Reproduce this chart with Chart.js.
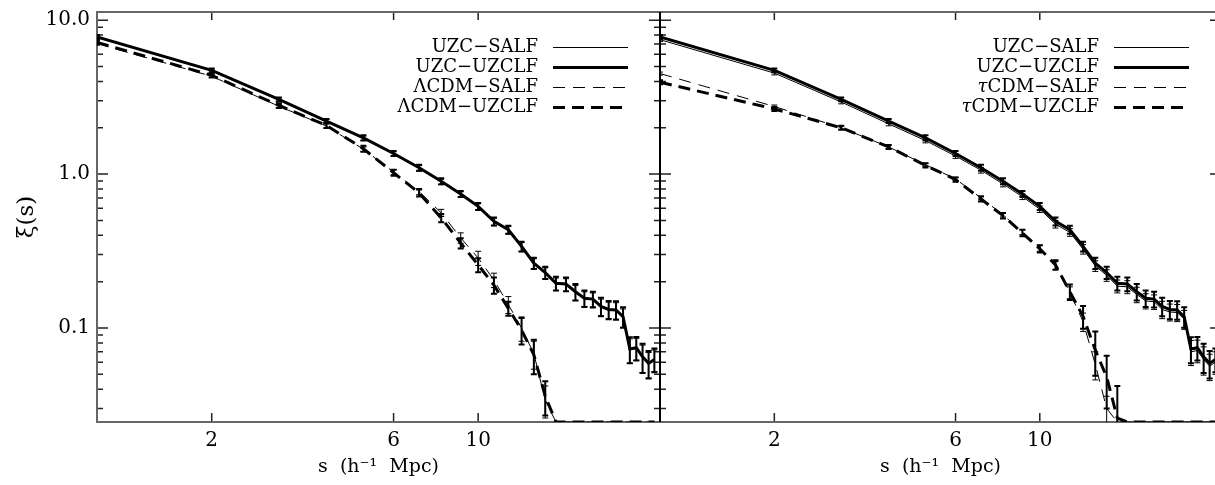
<!DOCTYPE html>
<html><head><meta charset="utf-8">
<script src="https://cdn.jsdelivr.net/npm/chart.js@4.4.0/dist/chart.umd.min.js"></script>
<style>
html,body{margin:0;padding:0;background:#fff;overflow:hidden;width:1215px;height:485px;}
#wrapL{position:absolute;left:0;top:0;width:663px;height:485px;}
#wrapR{position:absolute;left:657px;top:0;width:580px;height:485px;}
</style></head><body>
<div id="wrapL"><canvas id="cL" width="663" height="485"></canvas></div>
<div id="wrapR"><canvas id="cR" width="580" height="485"></canvas></div>
<script>
// ---- data ----
const separations = [1,2,3,4,5,6,7,8,9,10,11,12,13,14,15,16,17,18,19,20,21,22,23,24,25,26,27,28,29];

const uzcUzclf    = [7.78,4.72,3.06,2.21,1.72,1.36,1.10,0.898,0.743,0.617,0.493,0.435,0.339,0.264,0.229,0.195,0.193,0.172,0.156,0.154,0.138,0.132,0.131,0.1185,0.073,0.0744,0.065,0.0589,0.0625];
const uzcUzclfErr = [0.23,0.14,0.09,0.066,0.065,0.05,0.05,0.04,0.033,0.032,0.03,0.026,0.025,0.022,0.021,0.02,0.02,0.021,0.019,0.018,0.019,0.018,0.018,0.018,0.014,0.013,0.014,0.012,0.011];

const uzcSalfLeft  = [7.74,4.69,3.04,2.20,1.71,1.35,1.09,0.890,0.737,0.612,0.489,0.432,0.336,0.262,0.227,0.193,0.191,0.170,0.155,0.153,0.137,0.131,0.130,0.117,0.072,0.0737,0.0644,0.0583,0.062];
const uzcSalfRight = [7.47,4.53,2.94,2.12,1.65,1.31,1.06,0.862,0.713,0.592,0.473,0.418,0.325,0.253,0.220,0.187,0.185,0.165,0.150,0.148,0.132,0.127,0.126,0.114,0.070,0.0714,0.0624,0.0565,0.060];
const uzcSalfErr   = [0.2,0.12,0.08,0.06,0.055,0.045,0.045,0.036,0.03,0.029,0.027,0.024,0.023,0.02,0.019,0.018,0.018,0.019,0.017,0.016,0.017,0.016,0.016,0.016,0.013,0.012,0.013,0.011,0.01];

// values of 0.0245 mark points at or below the plotted floor
const lcdmUzclf    = [7.16,4.38,2.79,2.07,1.46,1.02,0.754,0.519,0.356,0.257,0.19,0.134,0.097,0.067,0.036,0.0245,0.0245,0.0245,0.0245,0.0245,0.0245,0.0245,0.0245,0.0245,0.0245,0.0245,0.0245,0.0245,0.0245];
const lcdmUzclfErr = [0.21,0.13,0.1,0.078,0.066,0.046,0.04,0.032,0.027,0.027,0.023,0.014,0.019,0.017,0.009,0,0,0,0,0,0,0,0,0,0,0,0,0,0];
const lcdmSalf     = [7.05,4.32,2.76,2.05,1.45,1.03,0.77,0.56,0.385,0.285,0.205,0.142,0.10,0.068,0.034,0.0245,0.0245,0.0245,0.0245,0.0245,0.0245,0.0245,0.0245,0.0245,0.0245,0.0245,0.0245,0.0245,0.0245];
const lcdmSalfErr  = [0.15,0.1,0.07,0.06,0.05,0.04,0.035,0.03,0.03,0.03,0.022,0.018,0.018,0.014,0.008,0,0,0,0,0,0,0,0,0,0,0,0,0,0];

const tcdmUzclf    = [3.95,2.65,2.0,1.5,1.14,0.921,0.689,0.537,0.414,0.327,0.257,0.172,0.119,0.072,0.048,0.026,0.0245,0.0245,0.0245,0.0245,0.0245,0.0245,0.0245,0.0245,0.0245,0.0245,0.0245,0.0245,0.0245];
const tcdmUzclfErr = [0.12,0.08,0.06,0.045,0.035,0.03,0.025,0.022,0.02,0.018,0.018,0.02,0.02,0.023,0.018,0.016,0,0,0,0,0,0,0,0,0,0,0,0,0];
const tcdmSalf     = [4.5,2.75,2.0,1.5,1.15,0.93,0.70,0.545,0.42,0.33,0.255,0.17,0.11,0.058,0.03,0.0245,0.0245,0.0245,0.0245,0.0245,0.0245,0.0245,0.0245,0.0245,0.0245,0.0245,0.0245,0.0245,0.0245];
const tcdmSalfErr  = [0.1,0.06,0.045,0.035,0.028,0.024,0.02,0.018,0.016,0.015,0.015,0.015,0.015,0.012,0.006,0,0,0,0,0,0,0,0,0,0,0,0,0,0];

const xTickValues = [2, 6, 10];
const xTickLabels = ['2', '6', '10'];
const yTickValues = [0.1, 1, 10];
const yTickLabels = ['0.1', '1.0', '10.0'];
const yMinorTickValues = [0.03,0.04,0.05,0.06,0.07,0.08,0.09,0.2,0.3,0.4,0.5,0.6,0.7,0.8,0.9,2,3,4,5,6,7,8,9];
const xMin = 1, xMax = 30, yMin = 0.0245, yMax = 11.3;

const TICKFONT = {family: 'DejaVu Serif', size: 20};

function labelFor(vals, labels, v) {
  for (let j = 0; j < vals.length; j++) if (Math.abs(vals[j] - v) < 1e-9) return labels[j];
  return '';
}

function ds(label, values, errors, thick, dashed) {
  return {
    label,
    data: separations.map((s, i) => ({x: s, y: values[i]})),
    errors,
    errWidth: thick ? 2 : 1,
    borderColor: '#000',
    borderWidth: thick ? 3 : 1,
    borderDash: dashed ? (thick ? [12, 7] : [12, 8]) : [],
    pointRadius: 0,
    tension: 0,
    fill: false
  };
}

// ---- plugins ----
const errorBarPlugin = {
  id: 'errorBars',
  afterDatasetsDraw(chart) {
    const {ctx, chartArea: a, scales: {x, y}} = chart;
    ctx.save();
    ctx.beginPath(); ctx.rect(a.left, a.top, a.right - a.left, a.bottom - a.top); ctx.clip();
    chart.data.datasets.forEach(d => {
      if (!d.errors) return;
      ctx.strokeStyle = '#000'; ctx.lineWidth = d.errWidth; ctx.setLineDash([]);
      ctx.beginPath();
      d.data.forEach((p, i) => {
        const e = d.errors[i]; if (!e) return;
        const px = x.getPixelForValue(p.x);
        const lo = p.y - e;
        const yLo = lo > 0 ? y.getPixelForValue(lo) : a.bottom + 5;
        const yHi = y.getPixelForValue(p.y + e);
        ctx.moveTo(px, yLo); ctx.lineTo(px, yHi);
        ctx.moveTo(px - 3, yLo); ctx.lineTo(px + 3, yLo);
        ctx.moveTo(px - 3, yHi); ctx.lineTo(px + 3, yHi);
      });
      ctx.stroke();
    });
    ctx.restore();
  }
};

const framePlugin = {
  id: 'frame',
  beforeDatasetsDraw(chart, args, opts) {
    const {ctx, chartArea: a, scales: {x, y}} = chart;
    ctx.save();
    ctx.setLineDash([]);
    ctx.strokeStyle = '#222'; ctx.lineWidth = 1.5;
    ctx.beginPath();
    yTickValues.forEach(v => {
      const py = y.getPixelForValue(v);
      ctx.moveTo(a.left, py); ctx.lineTo(a.left + 11, py);
      ctx.moveTo(a.right, py); ctx.lineTo(a.right - 11, py);
    });
    yMinorTickValues.forEach(v => {
      const py = y.getPixelForValue(v);
      ctx.moveTo(a.left, py); ctx.lineTo(a.left + 6, py);
      ctx.moveTo(a.right, py); ctx.lineTo(a.right - 6, py);
    });
    xTickValues.forEach(v => {
      const px = x.getPixelForValue(v);
      ctx.moveTo(px, a.bottom); ctx.lineTo(px, a.bottom - 9);
      ctx.moveTo(px, a.top); ctx.lineTo(px, a.top + 8);
    });
    ctx.stroke();
    ctx.lineWidth = 2;
    ctx.strokeStyle = '#666';
    ctx.strokeRect(a.left, a.top, a.right - a.left, a.bottom - a.top);
    if (opts.darkLeft) {
      ctx.strokeStyle = '#000';
      ctx.beginPath(); ctx.moveTo(a.left, a.top); ctx.lineTo(a.left, a.bottom); ctx.stroke();
    }
    ctx.restore();
  }
};

const legendPlugin = {
  id: 'sideLegend',
  afterDraw(chart) {
    const {ctx, chartArea: a} = chart;
    ctx.save();
    chart.data.datasets.forEach((d, i) => {
      const cy = a.top + 35.5 + i * 20;
      const xEnd = a.right - 122;
      ctx.fillStyle = '#000'; ctx.textBaseline = 'middle'; ctx.textAlign = 'right';
      ctx.font = '18px "DejaVu Serif"';
      const text = d.label;
      if (text.startsWith('τ')) {
        const rest = text.slice(1);
        ctx.fillText(rest, xEnd, cy);
        const w = ctx.measureText(rest).width;
        ctx.font = 'italic 18px "DejaVu Serif"';
        ctx.fillText('τ', xEnd - w, cy);
      } else {
        ctx.fillText(text, xEnd, cy);
      }
      ctx.strokeStyle = '#000'; ctx.lineWidth = d.borderWidth; ctx.setLineDash(d.borderDash || []);
      ctx.beginPath(); ctx.moveTo(a.right - 107, cy); ctx.lineTo(a.right - 32, cy); ctx.stroke();
    });
    ctx.restore();
  }
};

function makeChart(id, datasets, isLeft) {
  return new Chart(document.getElementById(id), {
    type: 'line',
    data: {datasets},
    options: {
      responsive: false, animation: false, devicePixelRatio: 1,
      layout: {padding: isLeft ? {top: 12, right: 3, left: 0, bottom: 0} : {top: 12, left: 3, right: 16, bottom: 0}},
      plugins: {legend: {display: false}, tooltip: {enabled: false}, frame: {darkLeft: !isLeft}},
      scales: {
        x: {
          type: 'logarithmic', position: 'bottom', min: xMin, max: xMax,
          grid: {display: false, drawTicks: false}, border: {display: false},
          afterBuildTicks: s => { s.ticks = xTickValues.map(v => ({value: v})); },
          ticks: {callback: v => labelFor(xTickValues, xTickLabels, v), padding: 7, font: TICKFONT, color: '#000', autoSkip: false, maxRotation: 0, minRotation: 0},
          title: {display: true, text: 's  (h⁻¹  Mpc)', font: {family: 'DejaVu Serif', size: 19}, color: '#000', padding: {top: 0, bottom: 7}},
          afterFit: s => { s.height = 63; s.paddingLeft = 0; s.paddingRight = 0; }
        },
        y: {
          type: 'logarithmic', position: 'left', min: yMin, max: yMax, display: isLeft,
          grid: {display: false, drawTicks: false}, border: {display: false},
          afterBuildTicks: s => { s.ticks = yTickValues.map(v => ({value: v})); },
          ticks: {callback: v => labelFor(yTickValues, yTickLabels, v), padding: 7, font: TICKFONT, color: '#000', autoSkip: false},
          title: {display: true, text: 'ξ(s)', font: {family: 'DejaVu Serif', size: 23}, color: '#000', padding: {top: 13, bottom: 0}},
          afterFit: s => { s.width = isLeft ? 97 : 0; s.paddingTop = 0; s.paddingBottom = 0; }
        }
      }
    },
    plugins: [errorBarPlugin, framePlugin, legendPlugin]
  });
}

makeChart('cL', [
  ds('UZC−SALF', uzcSalfLeft, uzcSalfErr, false, false),
  ds('UZC−UZCLF', uzcUzclf, uzcUzclfErr, true, false),
  ds('ΛCDM−SALF', lcdmSalf, lcdmSalfErr, false, true),
  ds('ΛCDM−UZCLF', lcdmUzclf, lcdmUzclfErr, true, true)
], true);

makeChart('cR', [
  ds('UZC−SALF', uzcSalfRight, uzcSalfErr, false, false),
  ds('UZC−UZCLF', uzcUzclf, uzcUzclfErr, true, false),
  ds('τCDM−SALF', tcdmSalf, tcdmSalfErr, false, true),
  ds('τCDM−UZCLF', tcdmUzclf, tcdmUzclfErr, true, true)
], false);
</script>
</body></html>
